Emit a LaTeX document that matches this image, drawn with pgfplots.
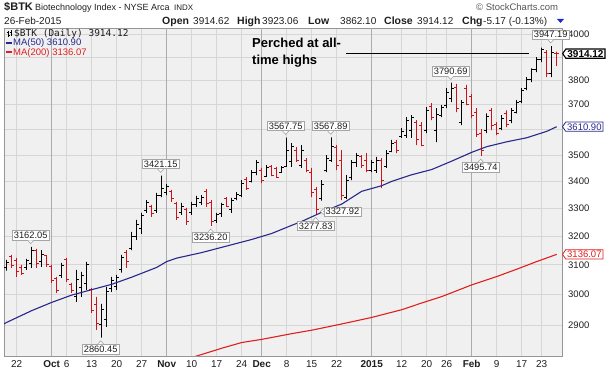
\documentclass[border=0pt]{standalone}
\usepackage{pgfplots}
\pgfplotsset{compat=1.18}
\usepackage{pgfplotstable}
\usepackage{fontspec}
\setmainfont{Liberation Sans}
\newfontfamily\monofont{DejaVu Sans Mono}
\usetikzlibrary{shapes.symbols}

\definecolor{plotbg}{RGB}{240,240,240}
\definecolor{gridc}{RGB}{214,214,214}
\definecolor{monthc}{RGB}{172,172,172}
\definecolor{framec}{RGB}{150,150,150}
\definecolor{manavy}{RGB}{40,40,140}
\definecolor{mared}{RGB}{226,30,30}
\definecolor{barred}{RGB}{206,18,26}
\definecolor{txt}{RGB}{30,30,30}
\definecolor{callgray}{RGB}{165,165,165}
\definecolor{scgray}{RGB}{85,85,85}
\definecolor{triblue}{RGB}{30,40,210}

% daily OHLC, bar index 0 = 18-Sep-2014 ... 110 = 26-Feb-2015
\pgfplotstableread{
i o h l c
0 3090 3117 3080 3107
1 3127 3134 3090 3097
2 3114 3124 3059 3076
3 3090 3100 3066 3069
4 3090 3120 3083 3114
5 3104 3162.05 3090 3148
6 3148 3155 3090 3104
7 3110 3151 3093 3137
8 3131 3134 3093 3100
9 3093 3100 3039 3046
10 3052 3059 3005 3012
11 3063 3107 3056 3097
12 3117 3124 3042 3049
13 3032 3039 3005 3012
14 2992 3083 2976 3049
15 3022 3076 2992 3063
16 3036 3110 3015 3100
17 3015 3022 2940 2946
18 2966 2992 2885 2907
19 2901 2969 2860.45 2950
20 2917 3025 2895 3009
21 3019 3059 3009 3046
22 3025 3066 3015 3056
23 3083 3134 3073 3124
24 3144 3151 3090 3110
25 3158 3215 3151 3200
26 3200 3258 3186 3240
27 3226 3283 3208 3272
28 3290 3330 3283 3319
29 3305 3312 3269 3280
30 3290 3356 3283 3345
31 3348 3421.15 3341 3374
32 3359 3389 3348 3381
33 3363 3367 3323 3334
34 3316 3323 3258 3265
35 3283 3319 3276 3308
36 3294 3301 3240 3251
37 3283 3323 3276 3312
38 3312 3345 3305 3334
39 3319 3348 3312 3341
40 3363 3370 3305 3316
41 3319 3330 3236.20 3251
42 3254 3283 3247 3276
43 3280 3319 3269 3312
44 3334 3341 3305 3308
45 3294 3338 3283 3330
46 3334 3359 3330 3352
47 3348 3404 3341 3393
48 3408 3415 3367 3374
49 3400 3442 3396 3431
50 3434 3480 3423 3469
51 3442 3450 3393 3404
52 3419 3461 3419 3450
53 3454 3461 3419 3423
54 3446 3454 3412 3415
55 3434 3457 3431 3450
56 3457 3567.75 3454 3519
57 3473 3546 3454 3534
58 3519 3530 3473 3480
59 3461 3538 3450 3519
60 3480 3488 3434 3442
61 3434 3450 3341 3359
62 3367 3378 3277.83 3294
63 3334 3404 3327.92 3389
64 3442 3499 3434 3488
65 3480 3567.89 3473 3534
66 3527 3538 3442 3461
67 3480 3519 3330 3348
68 3341 3423 3334 3404
69 3412 3480 3404 3469
70 3469 3507 3454 3496
71 3492 3499 3450 3461
72 3480 3507 3434 3442
73 3442 3480 3434 3469
74 3442 3492 3431 3480
75 3480 3488 3374 3404
76 3457 3519 3450 3507
77 3515 3558 3511 3546
78 3550 3558 3507 3519
79 3570 3605 3566 3593
80 3577 3649 3566 3637
81 3597 3657 3566 3649
82 3629 3637 3538 3558
83 3617 3629 3534 3538
84 3597 3690 3585 3677
85 3694 3706 3637 3649
86 3597 3686 3550 3661
87 3657 3698 3649 3690
88 3698 3768 3686 3751
89 3726 3790.69 3710 3768
90 3772 3785 3669 3686
91 3629 3718 3617 3710
92 3768 3781 3698 3702
93 3735 3743 3645 3657
94 3669 3686 3570 3581
95 3585 3601 3495.74 3519
96 3597 3665 3585 3653
97 3677 3686 3597 3617
98 3621 3629 3577 3585
99 3605 3657 3597 3645
100 3665 3677 3609 3621
101 3637 3686 3625 3677
102 3669 3718 3665 3710
103 3714 3768 3706 3760
104 3768 3814 3760 3806
105 3802 3851 3793 3844
106 3844 3899 3835 3887
107 3887 3941 3878 3933
108 3921 3930 3814 3831
109 3831 3947.19 3814 3919.29
110 3914.62 3923.06 3862.10 3914.12
}\ohlc

\tikzset{
  callout/.style={draw=callgray, fill=white, line width=0.6pt, inner xsep=1.6pt, inner ysep=1.4pt,
    text height=6.6pt, text depth=0pt, font=\fontsize{9.3}{10}\selectfont, text=txt},
  valbox/.style={signal, signal to=west, signal pointer angle=110, fill=white, anchor=west,
    inner xsep=1.5pt, inner ysep=1.2pt, text height=6.8pt, text depth=0pt, font=\fontsize{9.5}{10}\selectfont},
  lbl/.style={anchor=base west, inner sep=0pt, text=txt},
}

\newcommand{\hicall}[3]{%
  \node[callout, anchor=south, yshift=6.5pt] (cl) at (axis cs:#1,#2) {#3};
  \draw[callgray, fill=white, line width=0.6pt] ([xshift=-3pt]cl.south) -- ([yshift=-3.3pt]cl.south) -- ([xshift=3pt]cl.south);
}
\newcommand{\locall}[3]{%
  \node[callout, anchor=north, yshift=-6.5pt] (cl) at (axis cs:#1,#2) {#3};
  \draw[callgray, fill=white, line width=0.6pt] ([xshift=-3pt]cl.north) -- ([yshift=3.3pt]cl.north) -- ([xshift=3pt]cl.north);
}

\begin{document}
\begin{tikzpicture}
\begin{axis}[
  at={(4pt,19pt)}, anchor=south west,
  scale only axis, width=558pt, height=328pt,
  ymode=log, xmin=-0.54, xmax=111.06, ymin=2803.3, ymax=4026.6,
  clip mode=individual,
  axis background/.style={fill=plotbg},
  axis line style={draw=framec, line width=0.8pt},
  major tick length=0pt, minor tick length=0pt,
  xmajorgrids, ymajorgrids,
  major grid style={draw=gridc, line width=0.7pt},
  xtick={2,12,17,22,27,37,42,47,56,61,66,79,84,88,98,103,107},
  xticklabels={22,6,13,20,27,10,17,24,8,15,22,12,20,26,9,17,23},
  extra x ticks={9,32,51,73,93},
  extra x tick labels={\textbf{Oct},\textbf{Nov},\textbf{Dec},\textbf{2015},\textbf{Feb}},
  extra x tick style={major grid style={draw=monthc, line width=0.8pt}},
  xticklabel style={anchor=base, inner sep=0pt, yshift=-11.5pt, font=\fontsize{10}{10}\selectfont, text=txt},
  ytick={2900,3000,3100,3200,3300,3400,3500,3600,3700,3800,3900,4000},
  yticklabels={2900,3000,3100,3200,3300,3400,3500,{},3700,3800,{},4000},
  yticklabel pos=right,
  yticklabel style={anchor=west, inner sep=0pt, xshift=6pt, font=\fontsize{9.5}{10}\selectfont, text=txt},
]
% OHLC bars: open tick, high-low line, close tick; red when the close is below the previous close
\def\prevC{0}
\pgfplotsforeachungrouped \bi in {0,...,110}{%
  \pgfplotstablegetelem{\bi}{o}\of\ohlc\let\vO\pgfplotsretval
  \pgfplotstablegetelem{\bi}{h}\of\ohlc\let\vH\pgfplotsretval
  \pgfplotstablegetelem{\bi}{l}\of\ohlc\let\vL\pgfplotsretval
  \pgfplotstablegetelem{\bi}{c}\of\ohlc\let\vC\pgfplotsretval
  \pgfmathsetmacro\xa{\bi-0.5}%
  \pgfmathsetmacro\xb{\bi+0.5}%
  \ifdim\vC pt<\prevC pt\relax\def\bcol{barred}\else\def\bcol{black}\fi
  \edef\barcmd{\noexpand\addplot[draw=\bcol, line width=1pt, forget plot, mark=none]
    coordinates {(\xa,\vO) (\bi,\vO) (\bi,\vH) (\bi,\vL) (\bi,\vC) (\xb,\vC)};}%
  \barcmd
  \global\let\prevC\vC
}
% MA(50)
\addplot[manavy, line width=1.1pt, mark=none] coordinates {
(-0.6,2904) (0,2909) (5,2947) (9,2974) (13,2998) (17,3016) (21,3034) (25,3058) (30,3091)
(32,3111) (34,3123) (39,3142) (49,3188) (53,3209) (57,3238) (59,3252) (63,3285) (67,3315)
(71,3362) (75,3383) (77,3399) (81,3424) (85,3444) (89,3476) (93,3510) (96,3532) (100,3551)
(104,3567) (108,3592) (110,3610.90)};
% MA(200)
\addplot[mared, line width=1.1pt, mark=none] coordinates {
(35,2790) (38,2803) (43,2827) (47,2845) (51,2855) (57,2873) (61,2884) (67,2904) (73,2925)
(79,2950) (83,2972) (87,2993) (93,3032) (98,3060) (102,3085) (106,3111) (110,3136.07)};

% swing labels
\hicall{4.8}{3162.05}{3162.05}
\hicall{30.8}{3421.15}{3421.15}
\hicall{55.8}{3567.75}{3567.75}
\hicall{64.8}{3567.89}{3567.89}
\hicall{88.8}{3790.69}{3790.69}
\hicall{108.8}{3947.19}{3947.19}
\locall{18.8}{2860.45}{2860.45}
\locall{40.8}{3236.20}{3236.20}
\locall{61.8}{3277.83}{3277.83}
\locall{94.8}{3495.74}{3495.74}
\node[callout, anchor=west, xshift=2pt] (cl) at (axis cs:63,3288) {3327.92};
\draw[callgray, fill=white, line width=0.6pt] ([yshift=3pt]cl.west) -- ([xshift=-3.3pt]cl.west) -- ([yshift=-3pt]cl.west);

% last values on the price scale
\node[valbox, draw=black, line width=1.1pt, font=\bfseries\fontsize{10}{10}\selectfont] at (axis cs:111.06,3914.12) {3914.12};
\node[valbox, draw=manavy, text=manavy, line width=0.8pt] at (axis cs:111.06,3610.90) {3610.90};
\node[valbox, draw=mared, text=mared, line width=0.8pt] at (axis cs:111.06,3136.07) {3136.07};
\end{axis}

% header
\node[lbl, font=\bfseries\fontsize{11}{12}\selectfont] at (4pt,364.5pt) {\$BTK};
\node[lbl, font=\fontsize{9}{10}\selectfont] at (35pt,364.5pt) {Biotechnology Index - NYSE Arca};
\node[lbl, font=\fontsize{8}{9}\selectfont] at (174pt,364.5pt) {INDX};
\node[lbl, text=scgray, font=\fontsize{9.5}{10}\selectfont] at (476pt,364.5pt) {© StockCharts.com};
\node[lbl, font=\fontsize{10}{10}\selectfont] at (4pt,350pt) {26-Feb-2015};
\node[lbl, font=\bfseries\fontsize{10.5}{10}\selectfont] at (162pt,350pt) {Open};
\node[lbl, font=\fontsize{10}{10}\selectfont] at (193pt,350pt) {3914.62};
\node[lbl, font=\bfseries\fontsize{10.5}{10}\selectfont] at (237pt,350pt) {High};
\node[lbl, font=\fontsize{10}{10}\selectfont] at (262pt,350pt) {3923.06};
\node[lbl, font=\bfseries\fontsize{10.5}{10}\selectfont] at (308pt,350pt) {Low};
\node[lbl, font=\fontsize{10}{10}\selectfont] at (340pt,350pt) {3862.10};
\node[lbl, font=\bfseries\fontsize{10.5}{10}\selectfont] at (384pt,350pt) {Close};
\node[lbl, font=\fontsize{10}{10}\selectfont] at (417pt,350pt) {3914.12};
\node[lbl, font=\bfseries\fontsize{10.5}{10}\selectfont] at (462pt,350pt) {Chg};
\node[lbl, font=\fontsize{10}{10}\selectfont] at (483pt,350pt) {-5.17 (-0.13\%)};
\fill[triblue] (557pt,356pt) -- (564pt,356pt) -- (560.5pt,352pt) -- cycle;

% in-chart legend
\draw[black, line width=0.6pt] (8pt,344pt) -- (8pt,338pt) (6.5pt,342.5pt) -- (8pt,342.5pt) (8pt,339.5pt) -- (9.5pt,339.5pt)
  (11pt,344.5pt) -- (11pt,339pt) (9.8pt,343pt) -- (11pt,343pt) (11pt,341pt) -- (12.2pt,341pt);
\node[lbl, font=\monofont\fontsize{9.5}{10}\selectfont] at (14pt,338.5pt) {\$BTK (Daily) 3914.12};
\draw[manavy, line width=2pt] (5.5pt,332pt) -- (12pt,332pt);
\node[lbl, text=manavy, font=\fontsize{9.5}{10}\selectfont] at (13pt,329pt) {MA(50) 3610.90};
\draw[mared, line width=2pt] (5.5pt,322.5pt) -- (12pt,322.5pt);
\node[lbl, text=mared, font=\fontsize{9.5}{10}\selectfont] at (13pt,319.5pt) {MA(200) 3136.07};

% annotation
\node[lbl, text=black, font=\bfseries\fontsize{13}{14}\selectfont] at (252pt,327.5pt) {Perched at all-};
\node[lbl, text=black, font=\bfseries\fontsize{13}{14}\selectfont] at (252pt,310.5pt) {time highs};
\draw[black, line width=1pt] (346pt,321pt) -- (529pt,321pt);

\pgfresetboundingbox
\path[use as bounding box] (0pt,0pt) rectangle (614pt,375pt);
\end{tikzpicture}
\end{document}
